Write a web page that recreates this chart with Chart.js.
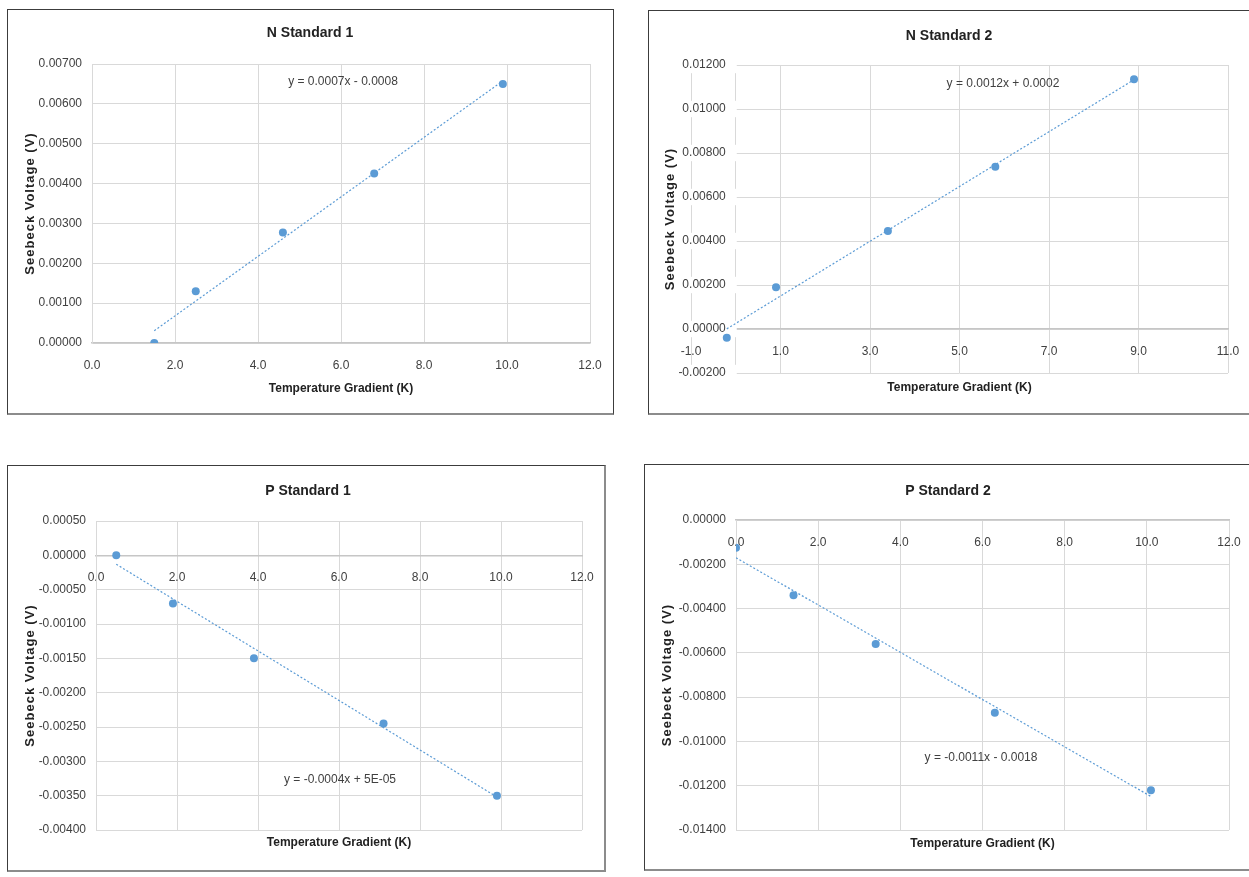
<!DOCTYPE html>
<html>
<head>
<meta charset="utf-8">
<title>Seebeck Standards</title>
<script src="https://cdn.jsdelivr.net/npm/chart.js@4.4.0/dist/chart.umd.min.js"></script>
<style>
  body { margin: 0; background: #fff; width: 1249px; height: 877px; overflow: hidden; position: relative; }
  .box { position: absolute; box-sizing: border-box; background: #fff;
         border: 1px solid #3c3c3c; border-bottom: 2px solid #8c8c8c; }
  .box canvas { display: block; }
</style>
</head>
<body>
<div class="box" id="box-n1"><canvas id="n1"></canvas></div>
<div class="box" id="box-n2"><canvas id="n2"></canvas></div>
<div class="box" id="box-p1" style="border-right: 2px solid #8c8c8c"><canvas id="p1"></canvas></div>
<div class="box" id="box-p2"><canvas id="p2"></canvas></div>
<script>
// Data: temperature gradient (K) and Seebeck voltage (V)
const n1X = [1.5, 2.5, 4.6, 6.8, 9.9];
const n1Y = [0.0, 0.0013, 0.00277, 0.00425, 0.0065];

const n2X = [-0.2, 0.9, 3.4, 5.8, 8.9];
const n2Y = [-0.0004, 0.0019, 0.00445, 0.00737, 0.01135];

const p1X = [0.5, 1.9, 3.9, 7.1, 9.9];
const p1Y = [0.0, -0.0007, -0.0015, -0.00245, -0.0035];

const p2X = [0.0, 1.4, 3.4, 6.3, 10.1];
const p2Y = [-0.00125, -0.0034, -0.0056, -0.0087, -0.0122];

// Tick values for the odd-numbered axis of N Standard 2
const n2XTicks = [-1, 1, 3, 5, 7, 9, 11];

const FONT = '"Liberation Sans", Arial, sans-serif';
const BLUE = "#5b9bd5";
const GRID = "#d9d9d9";
const TEXT = "#404040";
// y labels sit on an axis placed at x = 0, which chart.js draws flush to the line;
// three trailing spaces give the ~10px gap seen in the picture
const GAP = "\u00a0\u00a0\u00a0";

// Least squares fit drawn between the first and last x
function trendline(xs, ys) {
  const n = xs.length;
  const mx = xs.reduce((a, b) => a + b, 0) / n;
  const my = ys.reduce((a, b) => a + b, 0) / n;
  let sxy = 0, sxx = 0;
  xs.forEach((x, i) => {
    sxy += (x - mx) * (ys[i] - my);
    sxx += (x - mx) * (x - mx);
  });
  const slope = sxy / sxx;
  const icpt = my - slope * mx;
  const x0 = Math.min(...xs);
  const x1 = Math.max(...xs);
  return [{ x: x0, y: slope * x0 + icpt }, { x: x1, y: slope * x1 + icpt }];
}

// Titles, axis titles and equation label
const chartText = {
  id: "chartText",
  afterDraw(chart, args, o) {
    const { ctx, chartArea } = chart;
    ctx.save();
    ctx.fillStyle = "#222";
    ctx.textAlign = "center";
    ctx.textBaseline = "middle";
    ctx.font = "bold 14px " + FONT;
    ctx.fillText(o.title, o.titleX, o.titleY);

    ctx.font = "bold 12px " + FONT;
    ctx.fillText("Temperature Gradient (K)", (chartArea.left + chartArea.right) / 2, o.xTitleY);

    ctx.fillStyle = TEXT;
    ctx.font = "12px " + FONT;
    ctx.fillText(o.eq, o.eqX, o.eqY);

    ctx.fillStyle = "#222";
    ctx.font = "bold 13px " + FONT;
    ctx.letterSpacing = "1px";
    ctx.translate(o.yTitleX, (chartArea.top + chartArea.bottom) / 2);
    ctx.rotate(-Math.PI / 2);
    ctx.fillText("Seebeck Voltage (V)", 0, 0);
    ctx.restore();
  },
};

function makeChart(c) {
  const boxEl = document.getElementById("box-" + c.id);
  boxEl.style.left = c.box.l + "px";
  boxEl.style.top = c.box.t + "px";
  boxEl.style.width = c.box.w + "px";
  boxEl.style.height = c.box.h + "px";
  const canvas = document.getElementById(c.id);
  const cw = boxEl.clientWidth;
  const ch = boxEl.clientHeight;
  canvas.width = cw;
  canvas.height = ch;
  const ox = c.box.l + 1;
  const oy = c.box.t + 1;

  const xScale = {
    type: "linear",
    position: { y: 0 },
    min: c.xMin,
    max: c.xMax,
    ticks: {
      stepSize: 2,
      color: TEXT,
      font: { family: FONT, size: 12 },
      padding: 3,
      callback: (v) => Number(v).toFixed(1),
    },
    // invisible tick marks push the labels below the zero line
    // without widening the right padding the way ticks.padding does
    grid: { color: GRID, drawTicks: true, tickLength: 12, tickColor: "rgba(0,0,0,0)" },
    border: { color: "#c6c6c6", width: 1.5 },
  };
  if (c.xTicks) {
    xScale.afterBuildTicks = (scale) => {
      scale.ticks = c.xTicks.map((v) => ({ value: v }));
    };
  }

  new Chart(canvas, {
    type: "scatter",
    data: {
      datasets: [
        {
          data: c.xs.map((x, i) => ({ x: x, y: c.ys[i] })),
          backgroundColor: BLUE,
          borderWidth: 0,
          pointRadius: 4,
          pointHoverRadius: 4,
        },
        {
          type: "line",
          data: trendline(c.xs, c.ys),
          borderColor: BLUE,
          borderWidth: 1.2,
          borderDash: [2, 2],
          pointRadius: 0,
          fill: false,
        },
      ],
    },
    options: {
      responsive: false,
      animation: false,
      events: [],
      layout: {
        padding: {
          left: c.plot.l - ox,
          top: c.plot.t - oy,
          right: cw - (c.plot.r - ox),
          bottom: ch - (c.plot.b - oy),
        },
      },
      scales: {
        x: xScale,
        y: {
          type: "linear",
          position: { x: 0 },
          min: c.yMin,
          max: c.yMax,
          ticks: {
            stepSize: c.yStep,
            color: TEXT,
            font: { family: FONT, size: 12 },
            showLabelBackdrop: !!c.backdrop,
            backdropColor: "#fff",
            backdropPadding: 1,
            callback: (v) => Number(v).toFixed(5) + GAP,
          },
          grid: { color: GRID, drawTicks: false },
          border: { color: GRID },
        },
      },
      plugins: {
        legend: { display: false },
        tooltip: { enabled: false },
        chartText: {
          title: c.title,
          titleX: c.titleAt[0] - ox,
          titleY: c.titleAt[1] - oy,
          xTitleY: c.xTitleY - oy,
          yTitleX: c.yTitleX - ox,
          eq: c.eq,
          eqX: c.eqAt[0] - ox,
          eqY: c.eqAt[1] - oy,
        },
      },
    },
    plugins: [chartText],
  });
}

makeChart({
  id: "n1", title: "N Standard 1", xs: n1X, ys: n1Y,
  box: { l: 7, t: 9, w: 607, h: 406 }, plot: { l: 92, t: 64, r: 590, b: 343 },
  xMin: 0, xMax: 12, yMin: 0, yMax: 0.007, yStep: 0.001,
  titleAt: [310, 33], xTitleY: 389, yTitleX: 30,
  eq: "y = 0.0007x - 0.0008", eqAt: [343, 82],
});

makeChart({
  id: "n2", title: "N Standard 2", xs: n2X, ys: n2Y, xTicks: n2XTicks, backdrop: true,
  box: { l: 648, t: 10, w: 612, h: 405 }, plot: { l: 691, t: 65, r: 1228, b: 373 },
  xMin: -1, xMax: 11, yMin: -0.002, yMax: 0.012, yStep: 0.002,
  titleAt: [949, 36], xTitleY: 388, yTitleX: 670,
  eq: "y = 0.0012x + 0.0002", eqAt: [1003, 84],
});

makeChart({
  id: "p1", title: "P Standard 1", xs: p1X, ys: p1Y,
  box: { l: 7, t: 465, w: 599, h: 407 }, plot: { l: 96, t: 521, r: 582, b: 830 },
  xMin: 0, xMax: 12, yMin: -0.004, yMax: 0.0005, yStep: 0.0005,
  titleAt: [308, 491], xTitleY: 843, yTitleX: 30,
  eq: "y = -0.0004x + 5E-05", eqAt: [340, 780],
});

makeChart({
  id: "p2", title: "P Standard 2", xs: p2X, ys: p2Y,
  box: { l: 644, t: 464, w: 616, h: 407 }, plot: { l: 736, t: 520, r: 1229, b: 830 },
  xMin: 0, xMax: 12, yMin: -0.014, yMax: 0, yStep: 0.002,
  titleAt: [948, 491], xTitleY: 844, yTitleX: 667,
  eq: "y = -0.0011x - 0.0018", eqAt: [981, 758],
});
</script>
</body>
</html>
